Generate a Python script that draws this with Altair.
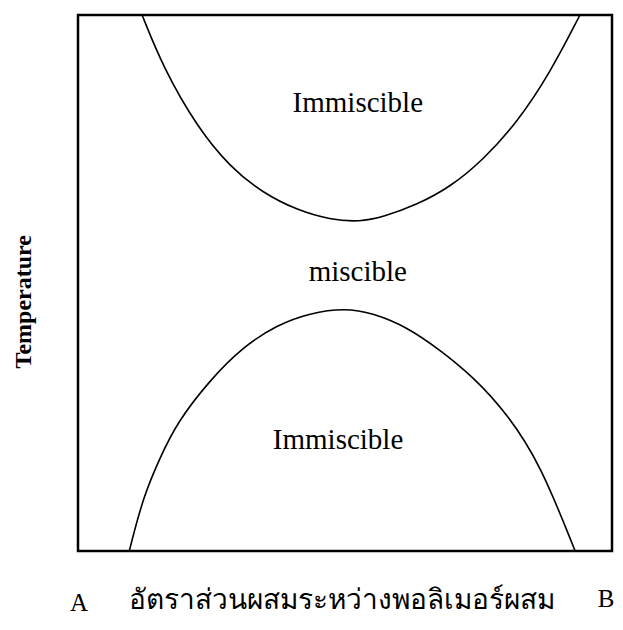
import altair as alt
import pandas as pd

# Upper (LCST) coexistence curve: composition fraction vs normalised temperature
upper_x = [0.120, 0.159, 0.223, 0.285, 0.346, 0.410, 0.472, 0.528, 0.571, 0.635, 0.697, 0.758, 0.822, 0.884, 0.940]
upper_y = [1.000, 0.903, 0.791, 0.716, 0.668, 0.636, 0.618, 0.614, 0.623, 0.646, 0.679, 0.729, 0.799, 0.892, 1.000]

# Lower (UCST) coexistence curve
lower_x = [0.096, 0.122, 0.154, 0.185, 0.247, 0.309, 0.373, 0.434, 0.500, 0.552, 0.616, 0.678, 0.740, 0.803, 0.865, 0.931]
lower_y = [0.000, 0.101, 0.175, 0.239, 0.319, 0.381, 0.422, 0.444, 0.453, 0.444, 0.418, 0.375, 0.325, 0.257, 0.164, 0.000]

# Region labels
region_text = ["Immiscible", "miscible", "Immiscible"]
region_x = [0.524, 0.524, 0.487]
region_y = [0.836, 0.521, 0.207]

# Axis end labels and titles
end_text = ["A", "B"]
end_x = [0.002, 0.989]
end_y = [-0.097, -0.090]

x_title = "อัตราส่วนผสมระหว่างพอลิเมอร์ผสม"
x_title_pos = (0.494, -0.093)
y_title = "Temperature"
y_title_pos = (-0.101, 0.465)

curves = pd.concat([
    pd.DataFrame({"x": upper_x, "y": upper_y, "curve": "upper"}),
    pd.DataFrame({"x": lower_x, "y": lower_y, "curve": "lower"}),
])
regions = pd.DataFrame({"x": region_x, "y": region_y, "t": region_text})
ends = pd.DataFrame({"x": end_x, "y": end_y, "t": end_text})
xt = pd.DataFrame({"x": [x_title_pos[0]], "y": [x_title_pos[1]], "t": [x_title]})
yt = pd.DataFrame({"x": [y_title_pos[0]], "y": [y_title_pos[1]], "t": [y_title]})

xs = alt.Scale(domain=[0, 1], nice=False, zero=False)
ys = alt.Scale(domain=[0, 1], nice=False, zero=False)
X = lambda: alt.X("x:Q", scale=xs, axis=None)
Y = lambda: alt.Y("y:Q", scale=ys, axis=None)

lines = alt.Chart(curves).mark_line(
    color="black", strokeWidth=1.6, interpolate="basis", clip=False
).encode(x=X(), y=Y(), detail="curve:N")

reg = alt.Chart(regions).mark_text(
    font="Liberation Serif", fontSize=29, color="black", baseline="middle", align="center"
).encode(x=X(), y=Y(), text="t:N")

endl = alt.Chart(ends).mark_text(
    font="Liberation Serif", fontSize=25, color="black", baseline="middle", align="center"
).encode(x=X(), y=Y(), text="t:N")

xtl = alt.Chart(xt).mark_text(
    font="Liberation Serif", fontSize=28, color="black", baseline="middle", align="center"
).encode(x=X(), y=Y(), text="t:N")

ytl = alt.Chart(yt).mark_text(
    font="Liberation Serif", fontSize=24, fontWeight="bold", color="black",
    baseline="middle", align="center", angle=270
).encode(x=X(), y=Y(), text="t:N")

chart = alt.layer(lines, reg, endl, xtl, ytl).properties(
    width=534, height=536,
    autosize=alt.AutoSizeParams(type="none"),
    padding={"left": 70, "top": 7, "right": 3, "bottom": 67},
).configure(background="white").configure_view(stroke="black", strokeWidth=2.5)

chart.save("out.html", embed_options={"renderer": "svg", "actions": False})
